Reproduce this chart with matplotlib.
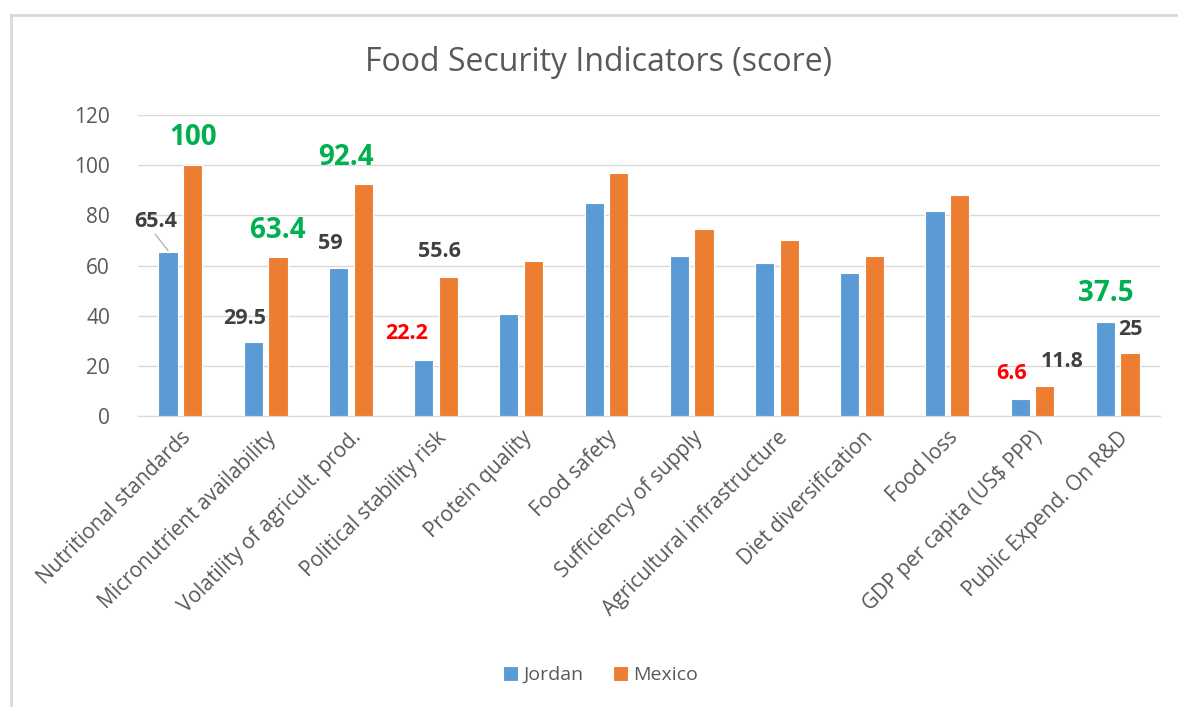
import matplotlib.pyplot as plt
import numpy as np

plt.rcParams['font.family'] = ['Open Sans', 'DejaVu Sans']

categories = ['Nutritional standards', 'Micronutrient availability',
              'Volatility of agricult. prod.', 'Political stability risk',
              'Protein quality', 'Food safety', 'Sufficiency of supply',
              'Agricultural infrastructure', 'Diet diversification',
              'Food loss', 'GDP per capita (US$ PPP)', 'Public Expend. On R&D']
jordan = [65.4, 29.5, 59, 22.2, 40.8, 85.0, 64.0, 61.0, 57.0, 81.8, 6.6, 37.5]
mexico = [100, 63.4, 92.4, 55.6, 62.0, 96.8, 74.8, 70.3, 64.0, 88.2, 11.8, 25]

# labelled values: (series, index, text, colour, size, x shift, y)
labels = [
    ('j', 0, '65.4', '#404040', 15.5, -0.15, 77.6),
    ('m', 0, '100', '#00B050', 20, 0.0, 111),
    ('j', 1, '29.5', '#404040', 15.5, -0.1, 39),
    ('m', 1, '63.4', '#00B050', 20, 0.0, 74),
    ('j', 2, '59', '#404040', 15.5, -0.1, 69),
    ('m', 2, '92.4', '#00B050', 20, -0.2, 103),
    ('j', 3, '22.2', '#FF0000', 15.5, -0.2, 33),
    ('m', 3, '55.6', '#404040', 15.5, -0.1, 65.5),
    ('j', 10, '6.6', '#FF0000', 15.5, -0.1, 17),
    ('m', 10, '11.8', '#404040', 15.5, 0.2, 21.6),
    ('j', 11, '37.5', '#00B050', 20, 0.0, 49),
    ('m', 11, '25', '#404040', 15.5, 0.0, 34.5),
]

blue = '#5B9BD5'
orange = '#ED7D31'

fig = plt.figure(figsize=(11.78, 7.07), dpi=100)
ax = fig.add_axes([0.117, 0.4116, 0.868, 0.4254])

x = np.arange(len(categories))
off = 0.145
w = 0.225
ax.bar(x - off, jordan, w, color=blue, edgecolor='white', linewidth=0.8, label='Jordan', zorder=3)
ax.bar(x + off, mexico, w, color=orange, edgecolor='white', linewidth=0.8, label='Mexico', zorder=3)

for s, i, txt, col, size, dx, y in labels:
    xc = x[i] - off if s == 'j' else x[i] + off
    ax.text(xc + dx, y, txt, color=col, fontsize=size, fontweight='bold',
            ha='center', va='center', zorder=4)

# leader line for 65.4
ax.plot([x[0] - off - 0.15, x[0] - off], [72.5, 66], color='#A6A6A6', lw=0.8, zorder=4)

ax.set_xlim(-0.5, len(categories) - 0.5)
ax.set_ylim(0, 120)
ax.set_yticks(np.arange(0, 121, 20))
ax.yaxis.grid(True, color='#D9D9D9', lw=1)
ax.set_axisbelow(True)
for sp in ['top', 'right', 'left']:
    ax.spines[sp].set_visible(False)
ax.spines['bottom'].set_color('#D9D9D9')
ax.tick_params(length=0)
ax.tick_params(axis='y', labelsize=15, labelcolor='#595959', pad=20)
ax.set_xticks(x)
ax.set_xticklabels(categories, rotation=45, ha='right', rotation_mode='anchor',
                   fontsize=15, color='#595959')
ax.tick_params(axis='x', pad=8)

fig.text(0.508, 0.912, 'Food Security Indicators (score)', ha='center', va='center',
         fontsize=23, color='#595959')

leg = fig.legend(loc='center', bbox_to_anchor=(0.51, 0.045), ncol=2, frameon=False,
                 fontsize=14, handlelength=0.75, handleheight=0.75, columnspacing=1.5,
                 handletextpad=0.3)
for t in leg.get_texts():
    t.set_color('#595959')

# chart border
fig.add_artist(plt.Line2D([11 / 1178, 11 / 1178], [0, 1 - 15 / 707], color='#D9D9D9', lw=2))
fig.add_artist(plt.Line2D([11 / 1178, 1], [1 - 15 / 707, 1 - 15 / 707], color='#D9D9D9', lw=2))

fig.savefig('out.png', dpi=100, facecolor='white')
